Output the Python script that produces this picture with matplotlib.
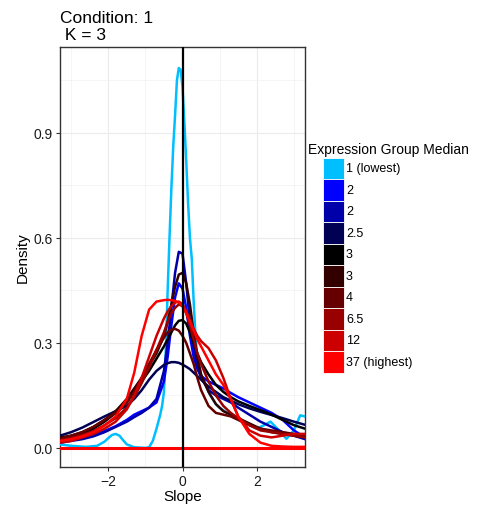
import matplotlib
matplotlib.use("Agg")
import matplotlib.pyplot as plt
from matplotlib.patches import Rectangle

plt.rcParams['font.family'] = ['Liberation Sans', 'DejaVu Sans']

groups = ["1 (lowest)", "2", "2", "2.5", "3", "3", "4", "6.5", "12", "37 (highest)"]
colors = ["#00BFFF", "#0000FF", "#0000AA", "#000055", "#000000",
          "#330000", "#660000", "#990000", "#CC0000", "#FF0000"]

# cyan curve read on its own x positions
x_cyan = [-3.3, -3.0, -2.6, -2.3, -2.1, -2.0, -1.9, -1.8, -1.7, -1.6, -1.5, -1.3, -1.0, -0.9, -0.8,
          -0.7, -0.6, -0.55, -0.5, -0.45, -0.4, -0.35, -0.3, -0.25, -0.2, -0.15, -0.1, -0.05, 0.0,
          0.05, 0.1, 0.15, 0.2, 0.25, 0.3, 0.35, 0.4, 0.5, 0.6, 0.75, 0.9, 1.0, 1.2, 1.4, 1.6, 1.8,
          2.0, 2.2, 2.37, 2.6, 2.8, 3.0, 3.17, 3.3]
y_cyan = [0.01, 0.006, 0.003, 0.006, 0.018, 0.028, 0.037, 0.04, 0.035, 0.022, 0.01, 0.002, 0.0, 0.002,
          0.02, 0.055, 0.095, 0.12, 0.16, 0.28, 0.45, 0.6, 0.74, 0.86, 0.95, 1.05, 1.085, 1.08, 1.03,
          0.93, 0.82, 0.7, 0.6, 0.54, 0.42, 0.32, 0.26, 0.21, 0.185, 0.15, 0.125, 0.115, 0.1, 0.09,
          0.08, 0.065, 0.055, 0.065, 0.075, 0.05, 0.026, 0.05, 0.093, 0.09]

# other curves read on a shared x grid
x_grid = [-3.3, -3.0, -2.7, -2.4, -2.1, -1.8, -1.5, -1.3, -1.1, -0.9, -0.7, -0.5, -0.4, -0.3, -0.2,
          -0.1, 0.0, 0.1, 0.2, 0.3, 0.4, 0.5, 0.7, 0.9, 1.1, 1.3, 1.5, 1.8, 2.1, 2.4, 2.7, 3.0, 3.3]
y_blue = [0.02, 0.025, 0.03, 0.038, 0.048, 0.062, 0.08, 0.095, 0.105, 0.115, 0.13, 0.19, 0.26, 0.35,
          0.43, 0.47, 0.455, 0.4, 0.32, 0.26, 0.225, 0.205, 0.19, 0.18, 0.17, 0.157, 0.145, 0.13,
          0.115, 0.1, 0.08, 0.05, 0.03]
y_dblue = [0.015, 0.02, 0.025, 0.033, 0.045, 0.06, 0.075, 0.088, 0.1, 0.115, 0.14, 0.22, 0.3, 0.4,
           0.5, 0.56, 0.555, 0.47, 0.36, 0.29, 0.235, 0.2, 0.165, 0.15, 0.14, 0.13, 0.115, 0.095,
           0.075, 0.06, 0.045, 0.035, 0.025]
y_navy = [0.035, 0.045, 0.058, 0.074, 0.09, 0.105, 0.12, 0.14, 0.165, 0.195, 0.22, 0.237, 0.242,
          0.245, 0.245, 0.243, 0.238, 0.232, 0.225, 0.215, 0.205, 0.195, 0.175, 0.16, 0.145, 0.135,
          0.125, 0.113, 0.103, 0.094, 0.085, 0.075, 0.066]
y_black = [0.02, 0.03, 0.04, 0.055, 0.075, 0.1, 0.13, 0.16, 0.19, 0.22, 0.255, 0.29, 0.31, 0.33,
           0.35, 0.363, 0.365, 0.355, 0.33, 0.3, 0.27, 0.245, 0.21, 0.18, 0.16, 0.145, 0.133, 0.12,
           0.108, 0.095, 0.08, 0.065, 0.055]
y_maroon1 = [0.03, 0.035, 0.045, 0.06, 0.08, 0.105, 0.14, 0.17, 0.2, 0.235, 0.27, 0.32, 0.36, 0.41,
             0.46, 0.495, 0.5, 0.47, 0.41, 0.33, 0.26, 0.21, 0.16, 0.125, 0.105, 0.095, 0.085, 0.07,
             0.055, 0.045, 0.04, 0.035, 0.03]
y_maroon2 = [0.025, 0.035, 0.045, 0.06, 0.08, 0.1, 0.13, 0.16, 0.2, 0.24, 0.28, 0.315, 0.33, 0.338,
             0.34, 0.335, 0.32, 0.3, 0.27, 0.24, 0.2, 0.165, 0.12, 0.1, 0.095, 0.09, 0.08, 0.065,
             0.055, 0.05, 0.045, 0.04, 0.035]
y_dred = [0.02, 0.028, 0.037, 0.048, 0.065, 0.085, 0.115, 0.145, 0.185, 0.23, 0.28, 0.33, 0.36,
          0.385, 0.4, 0.41, 0.405, 0.385, 0.35, 0.31, 0.27, 0.24, 0.19, 0.15, 0.12, 0.1, 0.085,
          0.065, 0.05, 0.045, 0.04, 0.035, 0.03]
y_mred = [0.015, 0.02, 0.03, 0.04, 0.055, 0.075, 0.11, 0.15, 0.2, 0.26, 0.32, 0.37, 0.39, 0.405,
          0.415, 0.418, 0.41, 0.39, 0.365, 0.34, 0.32, 0.305, 0.285, 0.25, 0.2, 0.14, 0.09, 0.05,
          0.035, 0.03, 0.035, 0.04, 0.04]
y_red = [0.02, 0.025, 0.033, 0.045, 0.064, 0.09, 0.14, 0.215, 0.32, 0.395, 0.418, 0.422, 0.423,
         0.422, 0.42, 0.415, 0.405, 0.385, 0.36, 0.335, 0.31, 0.29, 0.25, 0.21, 0.18, 0.14, 0.09,
         0.04, 0.015, 0.006, 0.004, 0.003, 0.003]

series = [(x_cyan, y_cyan), (x_grid, y_blue), (x_grid, y_dblue), (x_grid, y_navy), (x_grid, y_black),
          (x_grid, y_maroon1), (x_grid, y_maroon2), (x_grid, y_dred), (x_grid, y_mred), (x_grid, y_red)]

x_ticks = [-2, 0, 2]
x_ticklabels = ["\u22122", "0", "2"]
y_ticks = [0.0, 0.3, 0.6, 0.9]
y_ticklabels = ["0.0", "0.3", "0.6", "0.9"]

W, H = 496, 506
fig = plt.figure(figsize=(W / 100, H / 100), dpi=100)
ax = fig.add_axes([60 / W, 1 - 468 / H, 245 / W, 420 / H])

for (xs, ys), c in zip(series, colors):
    ax.plot(xs, ys, color=c, lw=1.8, solid_capstyle='round', solid_joinstyle='round', zorder=3)
ax.axhline(0, color="#FF0000", lw=2.2, zorder=3.5)
ax.axvline(0, color="black", lw=1.6, zorder=4)

ax.set_xlim(-3.3, 3.3)
ax.set_ylim(-0.0545, 1.145)
ax.set_xticks(x_ticks)
ax.set_xticklabels(x_ticklabels)
ax.set_yticks(y_ticks)
ax.set_yticklabels(y_ticklabels)
ax.set_xticks([-3, -1, 1, 3], minor=True)
ax.set_yticks([0.15, 0.45, 0.75, 1.05], minor=True)
ax.grid(True, which='major', color="#EBEBEB", lw=0.8, zorder=0)
ax.grid(True, which='minor', color="#F2F2F2", lw=0.5, zorder=0)
ax.set_axisbelow(True)
for s in ax.spines.values():
    s.set_color("#333333")
    s.set_linewidth(1.0)
ax.tick_params(which='major', length=3, width=0.8, color="#333333", labelsize=10,
               labelcolor="#1a1a1a", pad=2)
ax.tick_params(which='minor', length=0)
ax.set_xlabel("Slope", fontsize=11, labelpad=1)
ax.set_ylabel("Density", fontsize=11, labelpad=3)

fig.text(60 / W, 1 - 22.7 / H, "Condition: 1", ha='left', va='baseline', fontsize=12.5)
fig.text(60 / W, 1 - 40.2 / H, " K = 3", ha='left', va='baseline', fontsize=12.5)

# legend drawn by hand to match ggplot's layout
fig.text(308 / W, 1 - 154 / H, "Expression Group Median", ha='left', va='baseline', fontsize=10)
key_top, key_h, key_x, key_w = 158.5, 21.5, 322.5, 21
for i, (lab, c) in enumerate(zip(groups, colors)):
    y0 = key_top + i * key_h
    fig.add_artist(Rectangle((key_x / W, 1 - (y0 + key_h) / H), key_w / W, key_h / H,
                             transform=fig.transFigure, facecolor=c, edgecolor='white', lw=0.6))
    fig.text(346 / W, 1 - (y0 + key_h / 2) / H, lab, ha='left', va='center', fontsize=9)

fig.savefig("out.png", dpi=100)
